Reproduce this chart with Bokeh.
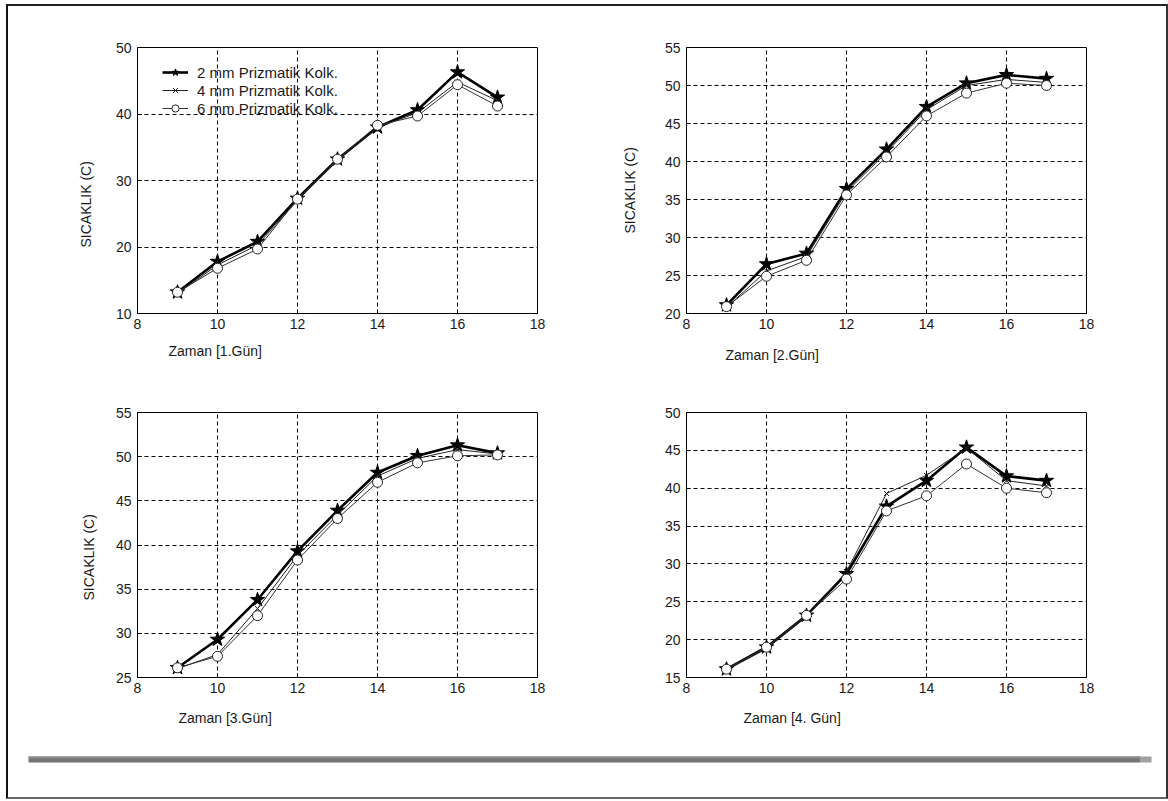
from bokeh.plotting import figure
from bokeh.models import Range1d, Legend, LegendItem, FixedTicker, Title
from bokeh.layouts import column, row
from bokeh.embed import file_html
from bokeh.resources import INLINE

# ---------------- data ----------------
hours = [9, 10, 11, 12, 13, 14, 15, 16, 17]
series_names = ["2 mm Prizmatik Kolk.", "4 mm Prizmatik Kolk.", "6 mm Prizmatik Kolk."]

day1_2mm = [13.2, 17.8, 20.8, 27.3, 33.2, 38.0, 40.6, 46.3, 42.5]
day1_4mm = [13.0, 17.3, 20.3, 27.0, 33.0, 38.0, 40.2, 44.8, 42.0]
day1_6mm = [13.2, 16.8, 19.7, 27.2, 33.2, 38.3, 39.7, 44.4, 41.2]

day2_2mm = [21.1, 26.5, 27.9, 36.4, 41.6, 47.2, 50.3, 51.4, 50.9]
day2_4mm = [20.8, 25.6, 27.5, 36.0, 41.2, 46.8, 50.0, 50.8, 50.4]
day2_6mm = [20.9, 24.9, 27.0, 35.6, 40.6, 46.0, 49.0, 50.3, 50.0]

day3_2mm = [26.1, 29.3, 33.8, 39.3, 43.9, 48.2, 50.1, 51.3, 50.4]
day3_4mm = [26.0, 27.6, 32.8, 38.8, 43.4, 47.8, 49.8, 50.8, 50.3]
day3_6mm = [26.1, 27.4, 32.0, 38.3, 43.0, 47.1, 49.3, 50.1, 50.2]

day4_2mm = [16.1, 19.0, 23.2, 28.7, 37.6, 41.0, 45.4, 41.6, 41.0]
day4_4mm = [16.0, 18.8, 23.0, 29.0, 39.3, 41.7, 45.3, 41.0, 40.3]
day4_6mm = [16.1, 19.0, 23.2, 28.0, 37.0, 39.0, 43.2, 40.0, 39.4]

x_ticks = [8, 10, 12, 14, 16, 18]
day1_yticks = [10, 20, 30, 40, 50]
day2_yticks = [20, 25, 30, 35, 40, 45, 50, 55]
day3_yticks = [25, 30, 35, 40, 45, 50, 55]
day4_yticks = [15, 20, 25, 30, 35, 40, 45, 50]

x_labels = ["Zaman  [1.G\u00fcn]", "Zaman [2.G\u00fcn]", "Zaman [3.G\u00fcn]", "Zaman [4. G\u00fcn]"]
y_label = "SICAKLIK (C)"

FONT = "Liberation Sans"
FS = "14px"


def make_panel(width, height, frame, yr, yticks, series, xlabel, xl_offset,
               xl_standoff, yl=None, legend=False, col_x=8, row_y=6):
    fx0, fx1, fy0, fy1 = frame  # absolute page pixels
    p = figure(width=width, height=height, x_range=Range1d(8, 18),
               y_range=Range1d(yr[0], yr[1]), output_backend="svg",
               toolbar_location=None,
               min_border_left=fx0 - col_x, min_border_right=col_x + width - fx1,
               min_border_top=fy0 - row_y, min_border_bottom=row_y + height - fy1)
    p.background_fill_color = "white"
    p.border_fill_color = "white"
    p.outline_line_color = "black"
    p.outline_line_width = 1
    p.xaxis.ticker = FixedTicker(ticks=x_ticks)
    p.yaxis.ticker = FixedTicker(ticks=yticks)
    for ax in (p.xaxis[0], p.yaxis[0]):
        ax.axis_line_color = "black"
        ax.major_tick_in = 4
        ax.major_tick_out = 0
        ax.minor_tick_line_color = None
        ax.major_tick_line_color = "black"
        ax.major_label_text_font = FONT
        ax.major_label_text_font_size = FS
        ax.major_label_text_color = "#1a1a1a"
    p.xaxis.major_label_standoff = 5
    p.yaxis.major_label_standoff = 6
    p.grid.grid_line_color = "black"
    p.grid.grid_line_dash = "4 3"
    p.grid.grid_line_width = 1

    s2, s4, s6 = series
    l2 = p.line(hours, s2, line_color="black", line_width=2.6)
    m2 = p.scatter(hours, s2, marker="star", size=15, fill_color="black",
                   line_color="black", line_width=1)
    l4 = p.line(hours, s4, line_color="#222222", line_width=1)
    m4 = p.scatter(hours, s4, marker="x", size=7, line_color="#222222", line_width=1)
    l6 = p.line(hours, s6, line_color="#333333", line_width=1)
    m6 = p.scatter(hours, s6, marker="circle", size=10, fill_color="white",
                   line_color="#222222", line_width=1)

    p.add_layout(Title(text=xlabel, align="left", offset=xl_offset,
                       standoff=xl_standoff, text_font=FONT, text_font_size=FS,
                       text_font_style="normal", text_color="#1a1a1a"), "below")
    if yl is not None:
        p.add_layout(Title(text=y_label, align="left", offset=yl[0],
                           standoff=yl[1], text_font=FONT, text_font_size=FS,
                           text_font_style="normal", text_color="#1a1a1a"), "left")
    if legend:
        items = [LegendItem(label=series_names[0], renderers=[l2, m2]),
                 LegendItem(label=series_names[1], renderers=[l4, m4]),
                 LegendItem(label=series_names[2], renderers=[l6, m6])]
        lg = Legend(items=items, location=(25, 196), border_line_alpha=0,
                    background_fill_alpha=0, label_text_font=FONT,
                    label_text_font_size="15px", label_text_color="#1a1a1a",
                    glyph_width=26, glyph_height=18, label_height=18,
                    spacing=0, padding=0, margin=0, label_standoff=9)
        p.add_layout(lg)
    return p


W1, W2 = 576, 582
H1, H2 = 374, 360

p1 = make_panel(W1, H1, (137, 537, 46, 313), (10, 50), day1_yticks,
                (day1_2mm, day1_4mm, day1_6mm), x_labels[0], 31, 18,
                yl=(66, 38), legend=True, col_x=8, row_y=6)
p2 = make_panel(W2, H1, (686, 1086, 47, 313), (20, 55), day2_yticks,
                (day2_2mm, day2_4mm, day2_6mm), x_labels[1], 39, 27,
                yl=(80, 48), col_x=584, row_y=6)
p3 = make_panel(W1, H2, (137, 537, 412, 677), (25, 55), day3_yticks,
                (day3_2mm, day3_4mm, day3_6mm), x_labels[2], 41, 24,
                yl=(77, 32), col_x=8, row_y=380)
p4 = make_panel(W2, H2, (686, 1086, 412, 677), (15, 50), day4_yticks,
                (day4_2mm, day4_4mm, day4_6mm), x_labels[3], 57, 24,
                col_x=584, row_y=380)

# bottom strip with the grey bar
p5 = figure(width=W1 + W2, height=57, x_range=Range1d(0, W1 + W2),
            y_range=Range1d(57, 0), output_backend="svg", toolbar_location=None,
            x_axis_type=None, y_axis_type=None,
            min_border_left=0, min_border_right=0, min_border_top=0,
            min_border_bottom=0)
p5.outline_line_color = None
p5.grid.visible = False
p5.quad(left=[20], right=[1132], top=[16], bottom=[22], fill_color="#747474",
        line_color=None)
p5.quad(left=[20], right=[1132], top=[16], bottom=[18], fill_color="#8c8c8c",
        line_color=None)
p5.quad(left=[1132], right=[1143], top=[16], bottom=[22], fill_color="#a0a0a0",
        line_color=None)

root = column(row(p1, p2, spacing=0), row(p3, p4, spacing=0), p5, spacing=0)
root.styles = {"position": "absolute", "left": "6px", "top": "4px",
               "border-left": "2px solid #111111", "border-top": "2px solid #222222",
               "border-right": "2px solid #333333", "border-bottom": "2px solid #666666"}

open("out.html", "w").write(file_html(root, INLINE))
